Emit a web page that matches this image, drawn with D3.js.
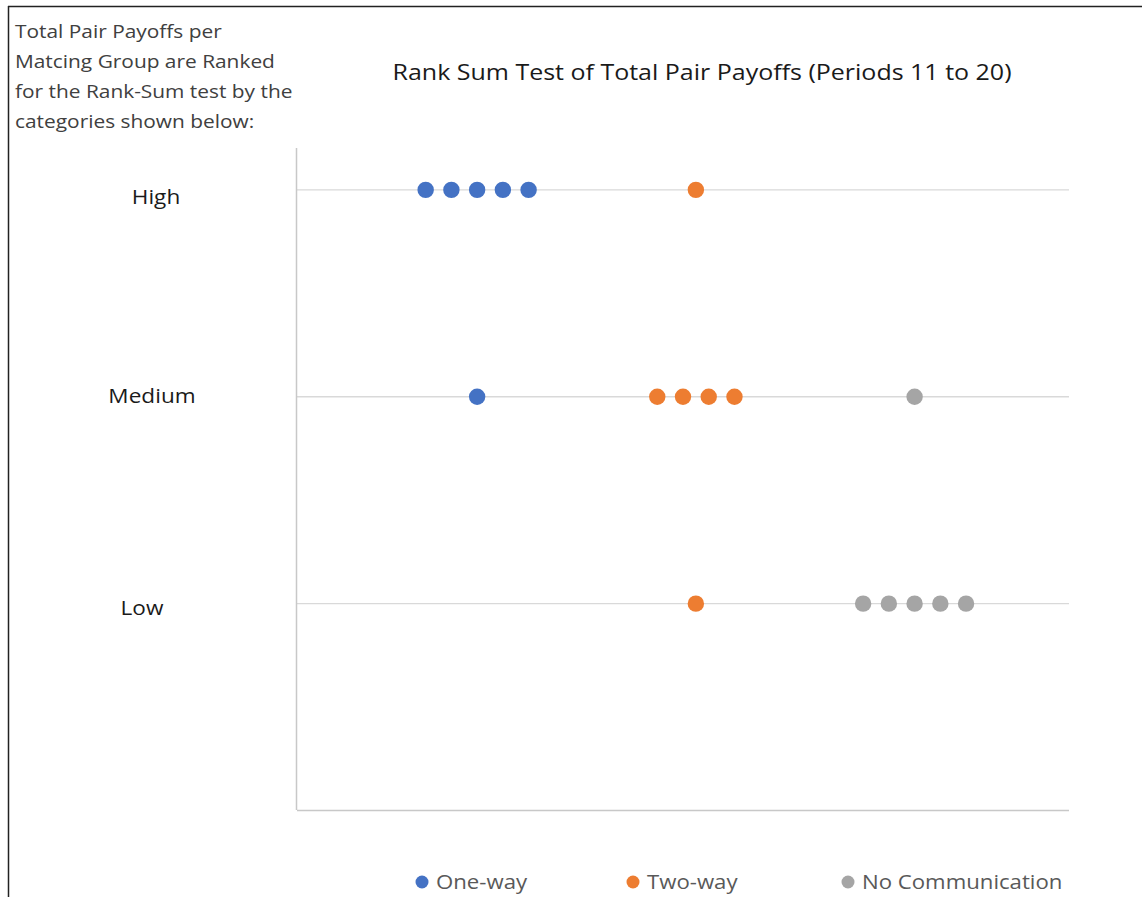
<!DOCTYPE html>
<html lang="en">
<head>
<meta charset="utf-8">
<title>Rank Sum Test of Total Pair Payoffs</title>
<script src="https://d3js.org/d3.v7.min.js"></script>
<style>
html,body {margin:0; padding:0; background:#fff;}
svg {display:block; font-family:"Open Sans", Lato, sans-serif;}
</style>
</head>
<body>
<script>
// categories (y) and their level value
const levels = ['Low', 'Medium', 'High']
const levelValue = {Low: 1, Medium: 2, High: 3}

// rank positions per series, per level
const oneWay = {High: [5, 6, 7, 8, 9], Medium: [7], Low: []}
const twoWay = {High: [15.5], Medium: [14, 15, 16, 17], Low: [15.5]}
const noComm = {High: [], Medium: [24], Low: [22, 23, 24, 25, 26]}

const seriesNames = ['One-way', 'Two-way', 'No Communication']
const seriesData = [oneWay, twoWay, noComm]
const colors = ['#4472C4', '#ED7D31', '#A5A5A5']

const noteLines = ['Total Pair Payoffs per', 'Matcing Group are Ranked',
  'for the Rank-Sum test by the', 'categories  shown below:']
const title = 'Rank Sum Test of Total Pair Payoffs (Periods 11 to 20)'

const W = 1142, H = 897
const svg = d3.select('body').append('svg').attr('width', W).attr('height', H)

// the source text is a bit wider than any font we have, so stretch it sideways
const place = (x, y, sx) => `translate(${x},${y}) scale(${sx},1)`

// frame lines (top + left)
svg.append('line').attr('x1', 8).attr('x2', W).attr('y1', 6.5).attr('y2', 6.5)
  .attr('stroke', '#222').attr('stroke-width', 1.5)
svg.append('line').attr('x1', 8.5).attr('x2', 8.5).attr('y1', 6).attr('y2', H)
  .attr('stroke', '#222').attr('stroke-width', 1.5)

// note text
svg.append('g').selectAll('text').data(noteLines).join('text')
  .attr('transform', (d, i) => place(15, 38 + i * 30, 1.16))
  .attr('font-size', 18).attr('fill', '#404040')
  .text(d => d)

svg.append('text').attr('transform', place(702, 80, 1.19)).attr('text-anchor', 'middle')
  .attr('font-size', 21).attr('fill', '#1a1a1a').text(title)

const x = d3.scaleLinear().domain([0, 30]).range([297, 1069])
const y = d3.scaleLinear().domain([0, 3.2]).range([810, 148])

// gridlines
svg.append('g').selectAll('line').data(levels).join('line')
  .attr('x1', x(0)).attr('x2', x(30))
  .attr('y1', d => y(levelValue[d]) + 0.5).attr('y2', d => y(levelValue[d]) + 0.5)
  .attr('stroke', '#d9d9d9').attr('stroke-width', 1.3)

// axes
svg.append('line').attr('x1', x(0) - 0.5).attr('x2', x(0) - 0.5).attr('y1', y(3.2)).attr('y2', y(0))
  .attr('stroke', '#c8c8c8').attr('stroke-width', 1.5)
svg.append('line').attr('x1', x(0)).attr('x2', x(30)).attr('y1', y(0) + 0.5).attr('y2', y(0) + 0.5)
  .attr('stroke', '#c8c8c8').attr('stroke-width', 1.5)

// category labels
const labelX = {High: 156, Medium: 152, Low: 142}
const labelDy = {High: 15, Medium: 7, Low: 12}
svg.append('g').selectAll('text').data(levels).join('text')
  .attr('transform', d => place(labelX[d], y(levelValue[d]) + labelDy[d], 1.13))
  .attr('text-anchor', 'middle').attr('font-size', 20).attr('fill', '#1a1a1a')
  .text(d => d)

// dots
seriesData.forEach((s, i) => {
  const pts = []
  levels.forEach(l => s[l].forEach(r => pts.push({r: r, l: l})))
  svg.append('g').selectAll('circle').data(pts).join('circle')
    .attr('cx', d => x(d.r)).attr('cy', d => y(levelValue[d.l]) + 0.5)
    .attr('r', 8.2).attr('fill', colors[i])
})

// legend
const legX = [422, 633, 848]
const leg = svg.append('g').selectAll('g').data(seriesNames).join('g')
  .attr('transform', (d, i) => `translate(${legX[i]},882)`)
leg.append('circle').attr('r', 6.5).attr('fill', (d, i) => colors[i])
leg.append('text').attr('transform', place(14, 7, 1.11)).attr('font-size', 20)
  .attr('fill', '#595959').text(d => d)
</script>
</body>
</html>
